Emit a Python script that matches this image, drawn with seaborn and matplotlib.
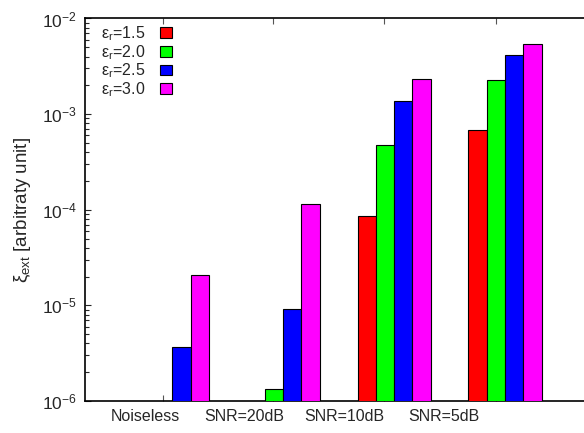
import numpy as np
import pandas as pd
import matplotlib
matplotlib.use("Agg")
import matplotlib.pyplot as plt
import seaborn as sns

conditions = ["Noiseless", "SNR=20dB", "SNR=10dB", "SNR=5dB"]
eps_labels = ["ε$_\\mathrm{r}$=1.5", "ε$_\\mathrm{r}$=2.0", "ε$_\\mathrm{r}$=2.5", "ε$_\\mathrm{r}$=3.0"]
# one list per permittivity, values per condition (nan = no bar)
xi_eps15 = [np.nan, np.nan, 8.6e-5, 6.8e-4]
xi_eps20 = [np.nan, 1.35e-6, 4.8e-4, 2.3e-3]
xi_eps25 = [3.65e-6, 9.1e-6, 1.36e-3, 4.15e-3]
xi_eps30 = [2.1e-5, 1.16e-4, 2.33e-3, 5.4e-3]
colors = ["#ff0000", "#00ff00", "#0000ff", "#ff00ff"]

rows = []
for lab, vals in zip(eps_labels, [xi_eps15, xi_eps20, xi_eps25, xi_eps30]):
    for cond, v in zip(conditions, vals):
        rows.append({"cond": cond, "eps": lab, "xi": v})
df = pd.DataFrame(rows)

sns.set_theme(style="white")
plt.rcParams["font.family"] = ["Liberation Sans", "DejaVu Sans"]
plt.rcParams["mathtext.fontset"] = "custom"
plt.rcParams["mathtext.rm"] = "Liberation Sans"
plt.rcParams["mathtext.it"] = "Liberation Sans:italic"

fig = plt.figure(figsize=(5.84, 4.33), dpi=100)
ax = fig.add_axes([0.1455, 0.0739, 0.8545, 0.8834])
ax.set_yscale("log")

sns.barplot(data=df, x="cond", y="xi", hue="eps", order=conditions, hue_order=eps_labels,
            palette=colors, width=0.66, edgecolor="black", linewidth=0.8,
            saturation=1, errorbar=None, ax=ax, zorder=3)

ax.set_ylim(1e-6, 1e-2)
ax.set_xlim(-0.787, 3.712)

# gnuplot-like tick layout: labels and tick marks sit a bit left of the groups
label_pos = [-0.246, 0.653, 1.548, 2.445]
ax.set_xticks(label_pos, labels=conditions)
ax.set_xticks([-0.087, 0.911, 1.912, 2.917], minor=True)
ax.tick_params(axis="x", which="major", length=0, labelsize=11.5, pad=6)
ax.tick_params(axis="x", which="minor", direction="in", length=4.5, width=0.8,
               color="#555555", top=True, bottom=True)
ax.tick_params(axis="y", which="major", direction="in", length=4.5, width=0.8,
               labelsize=12.5, pad=6, left=True)
ax.tick_params(axis="y", which="minor", direction="in", length=3, width=0.8, left=True)
ax.set_xlabel("")
ax.set_ylabel("ξ$_\\mathrm{ext}$ [arbitraty unit]", fontsize=13.5, labelpad=6)

for side in ["left", "bottom", "top"]:
    ax.spines[side].set_color("black")
    ax.spines[side].set_linewidth(1.2)
ax.spines["right"].set_visible(False)
ax.grid(False)

handles, labels = ax.get_legend_handles_labels()
ax.legend(handles, labels, loc="upper left", bbox_to_anchor=(0.015, 1.008), frameon=False,
          markerfirst=False, fontsize=11.5, handlelength=0.75, handleheight=0.65,
          handletextpad=0.9, labelspacing=0.0, borderaxespad=0.15)

fig.savefig("out.png", dpi=100)
